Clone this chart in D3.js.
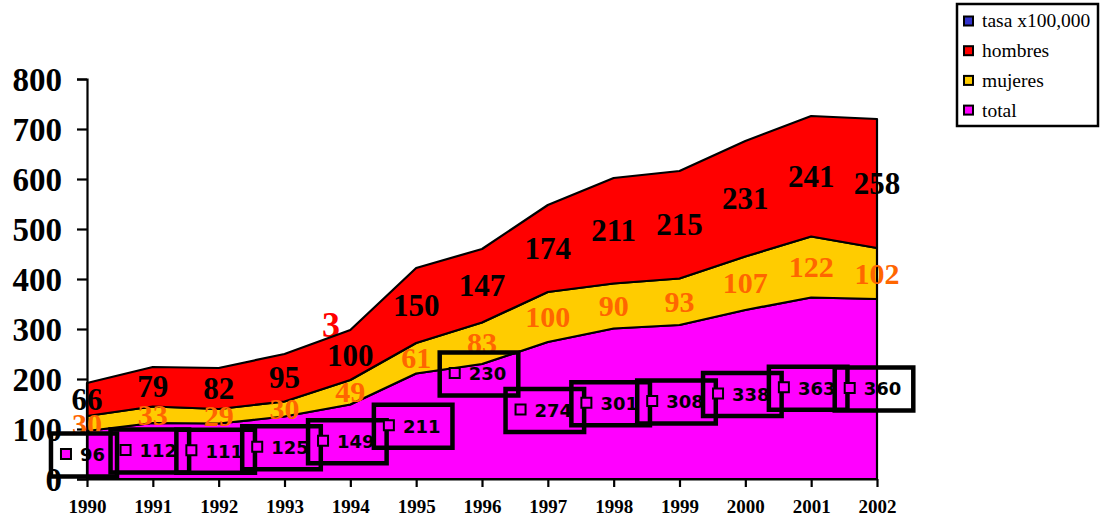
<!DOCTYPE html>
<html>
<head>
<meta charset="utf-8">
<script src="https://cdn.jsdelivr.net/npm/d3@7"></script>
<style>
  html, body { margin: 0; padding: 0; background: #fff; }
  svg { display: block; }
</style>
</head>
<body>
<svg id="chart" width="1102" height="518"></svg>
<script>
// Series values per year (stacked: total, then mujeres, then hombres)
const years   = [1990, 1991, 1992, 1993, 1994, 1995, 1996, 1997, 1998, 1999, 2000, 2001, 2002];
const total   = [96, 112, 111, 125, 149, 211, 230, 274, 301, 308, 338, 363, 360];
const mujeres = [30, 33, 29, 30, 49, 61, 83, 100, 90, 93, 107, 122, 102];
const hombres = [66, 79, 82, 95, 100, 150, 147, 174, 211, 215, 231, 241, 258];
const yTicks  = [0, 100, 200, 300, 400, 500, 600, 700, 800];
const legendLabels = ["tasa x100,000", "hombres", "mujeres", "total"];

const colors = { tasa: "#3333cc", hombres: "#ff0000", mujeres: "#ffcc00", total: "#ff00ff" };
const legendColors = [colors.tasa, colors.hombres, colors.mujeres, colors.total];
const serif = "'Liberation Serif', 'Times New Roman', serif";
const sans = "'DejaVu Sans', Verdana, sans-serif";

const svg = d3.select("#chart");

const x = d3.scaleLinear().domain([1990, 2002]).range([87, 877]);
const y = d3.scaleLinear().domain([0, 800]).range([479, 79]);

const rows = years.map((yr, i) => ({ year: yr, total: total[i], mujeres: mujeres[i], hombres: hombres[i] }));
const stack = d3.stack().keys(["total", "mujeres", "hombres"]);
const layers = stack(rows);

// stray red label fragment sitting behind the areas
svg.append("text")
  .attr("x", 331).attr("y", 337)
  .attr("text-anchor", "middle")
  .attr("font-family", serif).attr("font-weight", "bold").attr("font-size", 36)
  .attr("fill", "#ff0000")
  .text("3");

// stacked areas
const area = d3.area()
  .x(d => x(d.data.year))
  .y0(d => y(d[0]))
  .y1(d => y(d[1]));

svg.append("g").selectAll("path")
  .data(layers)
  .join("path")
  .attr("d", area)
  .attr("fill", d => colors[d.key])
  .attr("stroke", "#000")
  .attr("stroke-width", 2.2)
  .attr("stroke-linejoin", "round");

// axes
const yAxis = svg.append("g")
  .attr("transform", `translate(${x(1990)},0)`)
  .call(d3.axisLeft(y).tickValues(yTicks).tickSize(10).tickPadding(15).tickFormat(d3.format("d")));
yAxis.select(".domain").attr("stroke", "#000").attr("stroke-width", 2.2);
yAxis.selectAll(".tick line").attr("stroke", "#000").attr("stroke-width", 2.2);
yAxis.selectAll(".tick text")
  .attr("font-family", serif).attr("font-weight", "bold").attr("font-size", 33)
  .attr("fill", "#000").attr("dy", "0.34em");

const xAxis = svg.append("g")
  .attr("transform", `translate(0,${y(0)})`)
  .call(d3.axisBottom(x).tickValues(years).tickSize(8).tickSizeOuter(0).tickFormat(d3.format("d")));
xAxis.select(".domain").attr("stroke", "#000").attr("stroke-width", 2.2);
xAxis.selectAll(".tick line").attr("stroke", "#000").attr("stroke-width", 2.2);
xAxis.selectAll(".tick text")
  .attr("font-family", serif).attr("font-weight", "bold").attr("font-size", 19)
  .attr("fill", "#000").attr("y", 34).attr("dy", 0);

// value labels for hombres (black) and mujeres (orange), centred in their bands
const bandLabel = (layer, fill, size) => {
  svg.append("g").selectAll("text")
    .data(layer)
    .join("text")
    .attr("x", d => x(d.data.year))
    .attr("y", d => y((d[0] + d[1]) / 2))
    .attr("dy", "0.34em")
    .attr("text-anchor", "middle")
    .attr("font-family", serif).attr("font-weight", "bold").attr("font-size", size)
    .attr("fill", fill)
    .text(d => d[1] - d[0]);
};
bandLabel(layers[1], "#ff6600", 30);
bandLabel(layers[2], "#000000", 31);

// boxed labels for the total series, drawn one after another so later boxes overlap
const boxLift = { 1996: 95 };
const boxH = 43;
layers[0].forEach(d => {
  const yr = d.data.year;
  const v = d[1] - d[0];
  const cy = y(v / 2 + (boxLift[yr] || 0));
  const g = svg.append("g");
  const txt = g.append("text")
    .attr("font-family", sans).attr("font-weight", "bold").attr("font-size", 18)
    .attr("fill", "#000").attr("dy", "0.36em")
    .text(v);
  const tw = txt.node().getComputedTextLength();
  const w = 10 + 11 + 8 + tw + 12;
  const left = x(yr) - 3 - w / 2;
  g.insert("rect", "text")
    .attr("x", left).attr("y", cy - boxH / 2)
    .attr("width", w).attr("height", boxH)
    .attr("fill", "none").attr("stroke", "#000").attr("stroke-width", 4.5);
  g.insert("rect", "text")
    .attr("x", left + 10).attr("y", cy - 6)
    .attr("width", 10).attr("height", 10)
    .attr("fill", colors.total).attr("stroke", "#000").attr("stroke-width", 2);
  txt.attr("x", left + 29).attr("y", cy);
});

// legend
const lg = svg.append("g");
lg.append("rect")
  .attr("x", 957).attr("y", 4).attr("width", 141).attr("height", 122)
  .attr("fill", "#fff").attr("stroke", "#000").attr("stroke-width", 2.5);
legendLabels.forEach((lab, i) => {
  const cy = 21 + i * 29.7;
  lg.append("rect")
    .attr("x", 964).attr("y", cy - 4.5).attr("width", 9).attr("height", 9)
    .attr("fill", legendColors[i]).attr("stroke", "#000").attr("stroke-width", 2);
  lg.append("text")
    .attr("x", 982).attr("y", cy).attr("dy", "0.33em")
    .attr("font-family", serif).attr("font-size", 19.5).attr("fill", "#000")
    .text(lab);
});
</script>
</body>
</html>
